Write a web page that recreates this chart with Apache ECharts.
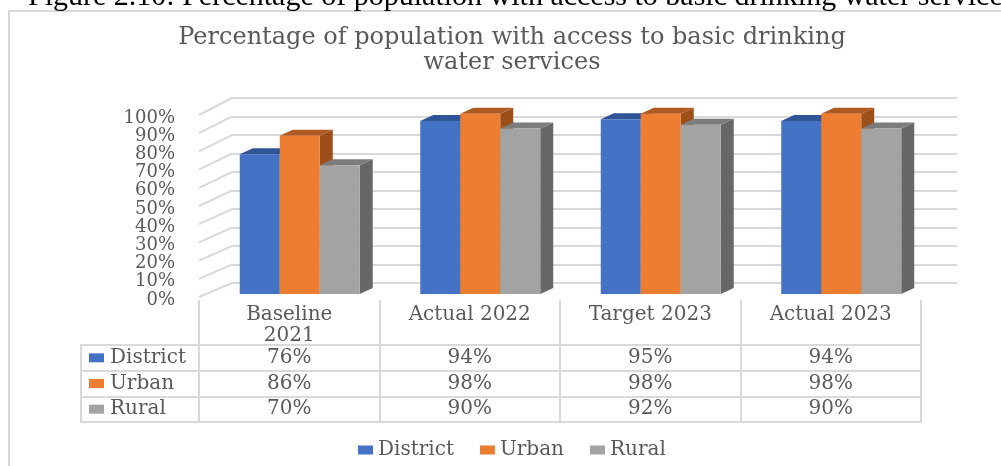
<!DOCTYPE html>
<html>
<head>
<meta charset="utf-8">
<style>html,body{margin:0;padding:0;background:#fff}#chart{width:1001px;height:466px}</style>
<script src="https://cdn.jsdelivr.net/npm/echarts@6/dist/echarts.min.js"></script>
</head>
<body>
<div id="chart"></div>
<script>
// Water access percentages by area, with a pseudo-3D column look and an attached data table.
const categories = ['Baseline\n2021', 'Actual 2022', 'Target 2023', 'Actual 2023'];
const district = [76, 94, 95, 94];
const urban = [86, 98, 98, 98];
const rural = [70, 90, 92, 90];
const seriesNames = ['District', 'Urban', 'Rural'];
const ticks = [0, 10, 20, 30, 40, 50, 60, 70, 80, 90, 100];
const figureCaption = 'Figure 2.10: Percentage of population with access to basic drinking water services';
const chartTitle = 'Percentage of population with access to basic drinking\nwater services';

const fronts = ['#4472c4', '#ed7d31', '#a3a3a3'];
const tops = ['#2f5597', '#ae5a21', '#7c7c7c'];
const sides = ['#2a4d8c', '#9c4f18', '#676767'];
const GREY = '#d9d9d9';
const TEXT = '#595959';
const FONT = '"DejaVu Serif"';
const LABEL_SIZE = 20;
const TICK_SIZE = 18;
const BAR_W = 40, DEPTH_X = 13, DEPTH_Y = 6;

function column3d(seriesIdx) {
  return function (params, api) {
    const c = api.coord([api.value(0), api.value(1)]);
    const base = api.coord([api.value(0), 0]);
    const x = c[0] + (seriesIdx - 1.5) * BAR_W;
    const y = c[1], b = base[1];
    const r = x + BAR_W;
    return {
      type: 'group',
      children: [
        { type: 'polygon', shape: { points: [[r, y], [r + DEPTH_X, y - DEPTH_Y], [r + DEPTH_X, b - DEPTH_Y], [r, b]] }, style: { fill: sides[seriesIdx] } },
        { type: 'polygon', shape: { points: [[x, y], [x + DEPTH_X, y - DEPTH_Y], [r + DEPTH_X, y - DEPTH_Y], [r, y]] }, style: { fill: tops[seriesIdx] } },
        { type: 'rect', shape: { x: x, y: y, width: BAR_W, height: b - y }, style: { fill: fronts[seriesIdx] } }
      ]
    };
  };
}

const rows = [district, urban, rural];
const tableCells = [];
rows.forEach((row, r) => row.forEach((v, c) => tableCells.push([c, r, v])));

const option = {
  animation: false,
  backgroundColor: '#fff',
  title: [
    { text: figureCaption, left: 23, top: -23, textStyle: { fontFamily: '"Liberation Serif"', fontSize: 30, fontWeight: 'normal', color: '#000' } },
    { text: chartTitle, left: 507, top: 20, textAlign: 'center', textStyle: { fontFamily: FONT, fontSize: 24, lineHeight: 25, fontWeight: 'normal', color: TEXT } }
  ],
  legend: {
    left: 353, top: 435, itemWidth: 15, itemHeight: 9, itemGap: 26, icon: 'rect',
    data: seriesNames,
    textStyle: { fontFamily: FONT, fontSize: LABEL_SIZE, color: TEXT }
  },
  grid: [
    { left: 199, width: 722, top: 118, height: 182 },   // front axis plane, labels and column heads
    { left: 232, width: 725, top: 98, height: 185 },    // back wall
    { left: 209.5, width: 722, top: 110, height: 184 }, // columns
    { left: 199, width: 722, top: 345, height: 77 }     // data table
  ],
  xAxis: [
    {
      gridIndex: 0, type: 'category', data: categories,
      axisLine: { show: false },
      axisTick: { show: true, length: 45, lineStyle: { color: GREY, width: 2 } },
      axisLabel: { margin: 4, verticalAlign: 'top', fontFamily: FONT, fontSize: LABEL_SIZE, lineHeight: 21, color: TEXT }
    },
    { gridIndex: 1, type: 'value', min: 0, max: 1, show: false },
    { gridIndex: 2, type: 'category', data: categories, show: false },
    {
      gridIndex: 3, type: 'category', data: categories,
      axisLabel: { show: false }, axisTick: { show: false },
      axisLine: { lineStyle: { color: GREY, width: 2 } },
      splitLine: { show: true, lineStyle: { color: GREY, width: 2 } }
    }
  ],
  yAxis: [
    {
      gridIndex: 0, type: 'value', min: 0, max: 100, interval: 10,
      axisLine: { show: false }, axisTick: { show: false }, splitLine: { show: false },
      axisLabel: { margin: 24, formatter: '{value}%', fontFamily: FONT, fontSize: TICK_SIZE, color: TEXT }
    },
    {
      gridIndex: 1, type: 'value', min: 0, max: 100, interval: 10,
      axisLine: { show: false }, axisTick: { show: false }, axisLabel: { show: false },
      splitLine: { show: true, lineStyle: { color: GREY, width: 2 } }
    },
    { gridIndex: 2, type: 'value', min: 0, max: 100, show: false },
    {
      gridIndex: 3, type: 'category', inverse: true, data: seriesNames,
      axisLine: { lineStyle: { color: GREY, width: 2 } },
      axisTick: { show: true, length: 118, lineStyle: { color: GREY, width: 2 } },
      splitLine: { show: true, lineStyle: { color: GREY, width: 2 } },
      axisLabel: {
        align: 'left', margin: 110,
        formatter: (v, i) => '{k' + i + '|}{t|' + v + '}',
        rich: {
          k0: { width: 15, height: 9, backgroundColor: fronts[0] },
          k1: { width: 15, height: 9, backgroundColor: fronts[1] },
          k2: { width: 15, height: 9, backgroundColor: fronts[2] },
          t: { fontFamily: FONT, fontSize: LABEL_SIZE, color: TEXT, padding: [0, 0, 0, 6] }
        }
      }
    }
  ],
  series: [
    {
      // receding lines on the left wall, from the back-wall gridlines to the front axis
      type: 'custom', name: 'wall', xAxisIndex: 1, yAxisIndex: 1, silent: true, z: 1,
      data: ticks.map(t => [0, t]),
      renderItem(params, api) {
        const p = api.coord([0, api.value(1)]);
        return {
          type: 'line',
          shape: { x1: p[0], y1: p[1], x2: p[0] - 33, y2: p[1] + 14 + 3 * api.value(1) / 100 },
          style: { stroke: GREY, lineWidth: 2 }
        };
      }
    },
    ...seriesNames.map((name, i) => ({
      type: 'custom', name, xAxisIndex: 2, yAxisIndex: 2, z: 3,
      itemStyle: { color: fronts[i] },
      data: rows[i].map((v, c) => [c, v]),
      renderItem: column3d(i)
    })),
    {
      type: 'custom', name: 'table', xAxisIndex: 3, yAxisIndex: 3, z: 4, silent: true,
      data: tableCells,
      renderItem(params, api) {
        const p = api.coord([api.value(0), api.value(1)]);
        return {
          type: 'text',
          style: { x: p[0], y: p[1], text: api.value(2) + '%', align: 'center', verticalAlign: 'middle', fontFamily: FONT, fontSize: LABEL_SIZE, fill: TEXT }
        };
      }
    }
  ],
  graphic: [
    { type: 'polyline', silent: true, shape: { points: [[9, 466], [9, 11], [1001, 11]] }, style: { stroke: GREY, lineWidth: 2, fill: null } },
    { type: 'line', silent: true, shape: { x1: 81, y1: 344, x2: 81, y2: 423 }, style: { stroke: GREY, lineWidth: 2 } }
  ]
};

const chart = echarts.init(document.getElementById('chart'));
chart.setOption(option);
</script>
</body>
</html>
